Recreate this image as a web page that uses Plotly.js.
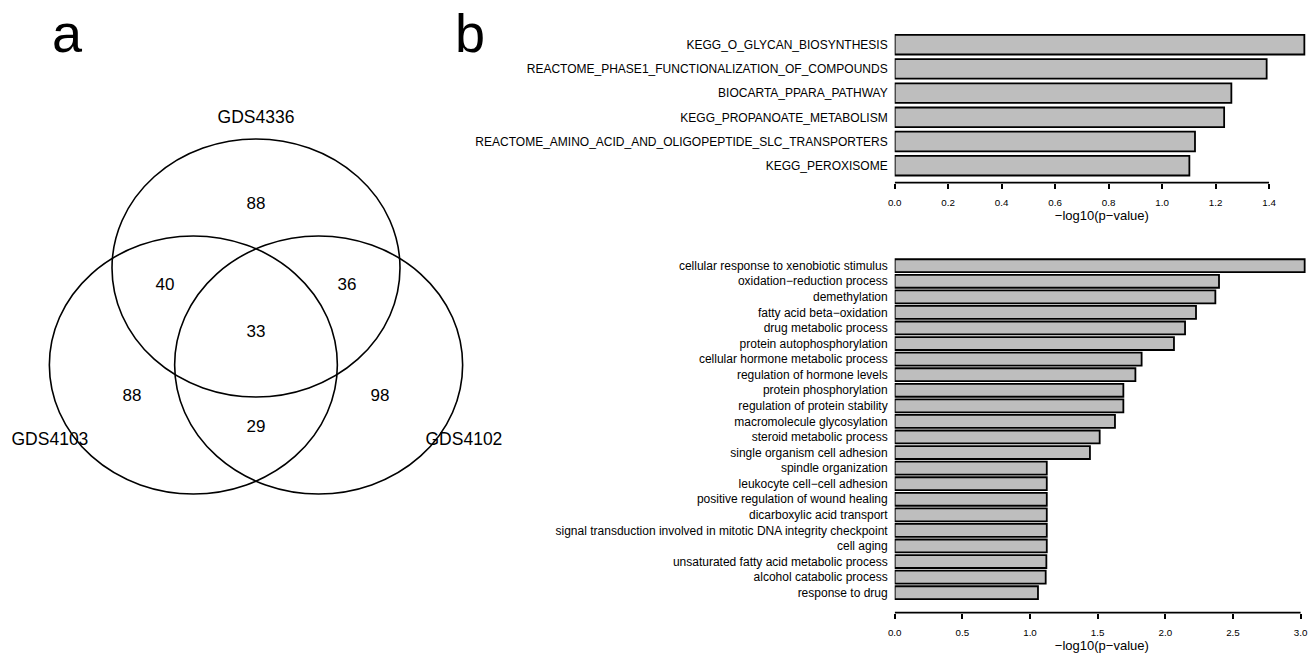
<!DOCTYPE html>
<html><head><meta charset="utf-8">
<script src="https://cdn.plot.ly/plotly-3.0.1.min.js"></script>
<style>html,body{margin:0;padding:0;background:#fff}#chart{width:1309px;height:654px}</style>
</head><body><div id="chart"></div>
<script>
// ---------------- data ----------------
const vennSetNames = ['GDS4336', 'GDS4103', 'GDS4102'];
const vennRegionNames = ['GDS4336 only', 'GDS4336 & GDS4103', 'GDS4336 & GDS4102', 'all three',
  'GDS4103 only', 'GDS4102 only', 'GDS4103 & GDS4102'];
const vennRegionCounts = [88, 40, 36, 33, 88, 98, 29];

const pathwayNames = [
  'KEGG_O_GLYCAN_BIOSYNTHESIS',
  'REACTOME_PHASE1_FUNCTIONALIZATION_OF_COMPOUNDS',
  'BIOCARTA_PPARA_PATHWAY',
  'KEGG_PROPANOATE_METABOLISM',
  'REACTOME_AMINO_ACID_AND_OLIGOPEPTIDE_SLC_TRANSPORTERS',
  'KEGG_PEROXISOME'
];
const pathwayScores = [1.532, 1.391, 1.259, 1.232, 1.123, 1.102];
const pathwayTicks = [0, 0.2, 0.4, 0.6, 0.8, 1.0, 1.2, 1.4];

const goTermNames = [
  'cellular response to xenobiotic stimulus',
  'oxidation\u2212reduction process',
  'demethylation',
  'fatty acid beta\u2212oxidation',
  'drug metabolic process',
  'protein autophosphorylation',
  'cellular hormone metabolic process',
  'regulation of hormone levels',
  'protein phosphorylation',
  'regulation of protein stability',
  'macromolecule glycosylation',
  'steroid metabolic process',
  'single organism cell adhesion',
  'spindle organization',
  'leukocyte cell\u2212cell adhesion',
  'positive regulation of wound healing',
  'dicarboxylic acid transport',
  'signal transduction involved in mitotic DNA integrity checkpoint',
  'cell aging',
  'unsaturated fatty acid metabolic process',
  'alcohol catabolic process',
  'response to drug'
];
const goTermScores = [3.03, 2.397, 2.37, 2.227, 2.146, 2.064, 1.825, 1.779, 1.69, 1.69, 1.628,
  1.515, 1.443, 1.124, 1.124, 1.124, 1.124, 1.124, 1.124, 1.121, 1.116, 1.059];
const goTicks = [0, 0.5, 1.0, 1.5, 2.0, 2.5, 3.0];

const axisTitleText = '\u2212log10(p\u2212value)';

// ---------------- venn layout geometry (unit circles) ----------------
const VENN_CENTERS = [[0, 0.752], [-0.435, 0], [0.435, 0]];
const VENN_REGION_POS = [[0, 1.24], [-0.632, 0.612], [0.632, 0.612], [0, 0.248],
  [-0.861, -0.248], [0.861, -0.248], [0, -0.488]];
const VENN_SET_POS = [[0, 1.907], [-1.431, -0.587], [1.444, -0.587]];

const FONT = '"Liberation Sans", Arial, Helvetica, sans-serif';
const W = 1309, H = 654;
const px = x => x / W, py = y => 1 - y / H;

const barStyle = {color: '#bebebe', line: {color: '#000', width: 1.8}};

const traces = [
  {type: 'bar', orientation: 'h', x: pathwayScores, y: pathwayNames, xaxis: 'x', yaxis: 'y',
   width: 0.81, marker: barStyle, hoverinfo: 'x+y'},
  {type: 'bar', orientation: 'h', x: goTermScores, y: goTermNames, xaxis: 'x2', yaxis: 'y2',
   width: 0.83, marker: barStyle, hoverinfo: 'x+y'},
  {type: 'scatter', mode: 'text', xaxis: 'x3', yaxis: 'y3',
   x: VENN_REGION_POS.map(p => p[0]), y: VENN_REGION_POS.map(p => p[1]),
   text: vennRegionCounts.map(String), hovertext: vennRegionNames,
   textfont: {family: FONT, size: 17, color: '#000'}, textposition: 'middle center'},
  {type: 'scatter', mode: 'text', xaxis: 'x3', yaxis: 'y3',
   x: VENN_SET_POS.map(p => p[0]), y: VENN_SET_POS.map(p => p[1]),
   text: vennSetNames, textfont: {family: FONT, size: 17.5, color: '#000'},
   textposition: 'middle center'}
];

const shapes = VENN_CENTERS.map(c => ({
  type: 'circle', xref: 'x3', yref: 'y3', x0: c[0] - 1, x1: c[0] + 1, y0: c[1] - 1, y1: c[1] + 1,
  line: {color: '#000', width: 1.6}, fillcolor: 'rgba(0,0,0,0)'
}));
// R-style axis lines spanning only the tick range
shapes.push({type: 'line', xref: 'x', yref: 'y domain', x0: pathwayTicks[0],
  x1: pathwayTicks[pathwayTicks.length - 1], y0: 0, y1: 0, line: {color: '#000', width: 1.8}});
shapes.push({type: 'line', xref: 'x2', yref: 'y2 domain', x0: goTicks[0],
  x1: goTicks[goTicks.length - 1], y0: 0, y1: 0, line: {color: '#000', width: 1.8}});

function xAx(domain, range, ticks, anchor) {
  return {domain, range, anchor, tickmode: 'array', tickvals: ticks, tickformat: '.1f',
    ticks: 'outside', ticklen: 5.5, tickwidth: 1.8, tickcolor: '#000', showline: false,
    showgrid: false, zeroline: false, ticklabelstandoff: 5,
    tickfont: {family: FONT, size: 9.8, color: '#000'},
    title: {text: axisTitleText, font: {family: FONT, size: 13, color: '#000'}, standoff: 0}};
}
function yAx(domain, range, anchor) {
  return {domain, range, anchor, type: 'category', showline: false, showgrid: false,
    zeroline: false, ticks: '', ticklabelstandoff: 6,
    tickfont: {family: FONT, size: 12, color: '#000'}};
}

const layout = {
  width: W, height: H, margin: {l: 0, r: 0, t: 0, b: 0},
  paper_bgcolor: '#fff', plot_bgcolor: 'rgba(0,0,0,0)', showlegend: false,
  font: {family: FONT, color: '#000'},
  xaxis: xAx([px(894.7), 1], [0, (W - 894.7) / 267.4], pathwayTicks, 'y'),
  yaxis: yAx([py(182.7), py(24)], [(182.7 - 44.7) / 24.2, (24 - 44.7) / 24.2], 'x'),
  xaxis2: xAx([px(894.7), 1], [0, (W - 894.7) / 135.3], goTicks, 'y2'),
  yaxis2: yAx([py(612.7), py(245)], [(612.7 - 265.7) / 15.571, (245 - 265.7) / 15.571], 'x2'),
  xaxis3: {domain: [0, px(520)], range: [-256 / 144, 264 / 144], anchor: 'y3', visible: false},
  yaxis3: {domain: [0, 1], range: [(365 - 654) / 129, 365 / 129], anchor: 'x3', visible: false},
  shapes,
  annotations: [
    {text: 'a', xref: 'paper', yref: 'paper', x: px(67.5), y: py(1), xanchor: 'center',
     yanchor: 'top', showarrow: false, font: {family: FONT, size: 54, color: '#000'}},
    {text: 'b', xref: 'paper', yref: 'paper', x: px(469.5), y: py(1), xanchor: 'center',
     yanchor: 'top', showarrow: false, font: {family: FONT, size: 54, color: '#000'}}
  ]
};

Plotly.newPlot('chart', traces, layout, {displayModeBar: false, responsive: false});
</script>
</body></html>
